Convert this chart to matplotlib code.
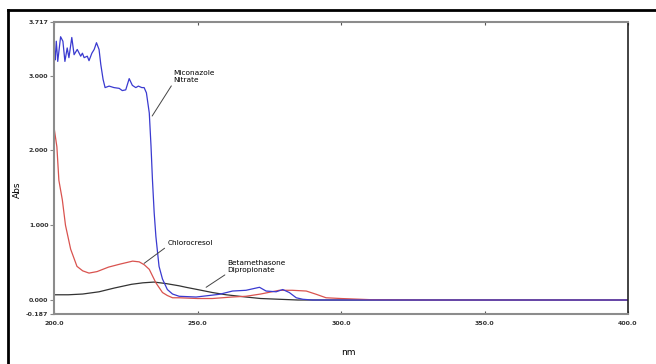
import numpy as np
import matplotlib
matplotlib.use("Agg")
import matplotlib.pyplot as plt

# Miconazole Nitrate (blue)
mic_nm = [200.0, 200.2, 200.4, 200.8, 201.3, 202.3, 203.1, 203.8, 204.6, 205.2, 206.2, 207.0,
          208.1, 209.3, 209.9, 210.5, 211.6, 212.2, 213.2, 214.0, 214.8, 215.7, 216.3, 217.1,
          217.8, 219.2, 220.9, 222.7, 223.8, 225.0, 226.2, 227.3, 228.5, 229.4, 230.6, 231.4,
          232.2, 233.2, 233.8, 234.3, 234.9, 235.5, 236.1, 236.6, 237.8, 239.5, 241.3, 243.6,
          249.5, 257.6, 262.2, 266.9, 271.6, 273.9, 277.4, 279.7, 282.0, 284.4, 286.7, 290.0,
          400.0]
mic_abs = [3.24, 3.32, 3.21, 3.46, 3.19, 3.52, 3.46, 3.19, 3.37, 3.24, 3.51, 3.28,
           3.35, 3.26, 3.30, 3.24, 3.26, 3.20, 3.30, 3.35, 3.44, 3.35, 3.15, 2.95,
           2.84, 2.86, 2.84, 2.83, 2.80, 2.81, 2.96, 2.87, 2.84, 2.86, 2.84, 2.84,
           2.77, 2.50, 2.06, 1.61, 1.17, 0.85, 0.63, 0.45, 0.28, 0.14, 0.08, 0.05,
           0.04, 0.076, 0.12, 0.13, 0.17, 0.12, 0.11, 0.14, 0.10, 0.03, 0.01, 0.0,
           0.0]

# Chlorocresol (red)
chl_nm = [200.0, 201.0, 201.7, 202.9, 204.0, 205.8, 208.0, 210.0, 212.2, 215.0, 219.0, 223.0,
          227.4, 229.7, 231.5, 233.2, 235.5, 237.8, 239.5, 241.3, 243.6, 250.0, 255.2, 262.0,
          266.9, 272.0, 278.5, 283.0, 287.9, 291.4, 294.8, 300.0, 310.0, 330.0, 400.0]
chl_abs = [2.31, 2.05, 1.60, 1.34, 1.00, 0.68, 0.45, 0.39, 0.36, 0.38, 0.44, 0.48,
           0.52, 0.51, 0.47, 0.41, 0.23, 0.10, 0.06, 0.03, 0.03, 0.02, 0.02, 0.04,
           0.05, 0.08, 0.13, 0.13, 0.12, 0.076, 0.03, 0.02, 0.005, 0.0, 0.0]

# Betamethasone Dipropionate (black)
bet_nm = [200.0, 205.0, 210.0, 215.7, 221.0, 227.0, 231.0, 234.9, 239.0, 243.6, 246.0, 250.0,
          255.2, 260.0, 266.9, 272.0, 278.5, 285.0, 400.0]
bet_abs = [0.07, 0.07, 0.08, 0.11, 0.16, 0.21, 0.23, 0.24, 0.22, 0.19, 0.17, 0.14,
           0.10, 0.07, 0.04, 0.02, 0.01, 0.0, 0.0]

xticks = [200.0, 250.0, 300.0, 350.0, 400.0]
yticks = [-0.187, 0.0, 1.0, 2.0, 3.0, 3.717]

fig = plt.figure(figsize=(6.56, 3.64), dpi=100)
ax = fig.add_axes([54 / 656, 1 - 314 / 364, (628 - 54) / 656, (314 - 22) / 364])

ax.plot(bet_nm, bet_abs, color="#333333", lw=0.9)
ax.plot(chl_nm, chl_abs, color="#d9534f", lw=0.9)
ax.plot(mic_nm, mic_abs, color="#3a3ad0", lw=0.9)

ax.set_xlim(200, 400)
ax.set_ylim(-0.187, 3.717)
ax.set_xticks(xticks)
ax.set_xticklabels(["%.1f" % v for v in xticks])
ax.set_yticks(yticks)
ax.set_yticklabels(["%.3f" % v for v in yticks])
ax.tick_params(axis="y", direction="out", length=3, width=0.8, color="#888888",
               labelsize=4.5, pad=1)
ax.tick_params(axis="x", direction="in", length=2, width=0.8, color="#555555",
               labelsize=4.5, pad=5, top=True)
for lab in ax.get_xticklabels() + ax.get_yticklabels():
    lab.set_fontweight("bold")
    lab.set_color("#333333")

for side in ["left", "bottom", "top"]:
    ax.spines[side].set_color("#8c8c8c")
    ax.spines[side].set_linewidth(1.5)
ax.spines["right"].set_color("#222222")
ax.spines["right"].set_linewidth(1.2)

ax.set_xlabel("nm", fontsize=6.5)
ax.set_ylabel("Abs", fontsize=6.5)
ax.xaxis.set_label_coords(0.512, -0.116)
ax.yaxis.set_label_coords(-0.056, 0.425)

# labels with leader lines
ax.annotate("Miconazole\nNitrate", xy=(234.2, 2.46), xytext=(241.5, 2.90),
            fontsize=5.3, va="bottom", ha="left", linespacing=1.3,
            arrowprops=dict(arrowstyle="-", color="#444444", lw=0.7, shrinkA=0, shrinkB=0,
                            relpos=(0.0, 0.0)))
ax.annotate("Chlorocresol", xy=(231.4, 0.49), xytext=(239.5, 0.72),
            fontsize=5.3, va="bottom", ha="left",
            arrowprops=dict(arrowstyle="-", color="#444444", lw=0.7, shrinkA=0, shrinkB=0,
                            relpos=(0.0, 0.0)))
ax.annotate("Betamethasone\nDipropionate", xy=(253.0, 0.17), xytext=(260.5, 0.36),
            fontsize=5.3, va="bottom", ha="left", linespacing=1.3,
            arrowprops=dict(arrowstyle="-", color="#444444", lw=0.7, shrinkA=0, shrinkB=0,
                            relpos=(0.0, 0.0)))

# outer frame (top and left edges)
fig.add_artist(plt.Line2D([8 / 656, 1.0], [1 - 10 / 364, 1 - 10 / 364],
                          transform=fig.transFigure, color="black", lw=2))
fig.add_artist(plt.Line2D([8 / 656, 8 / 656], [0.0, 1 - 10 / 364],
                          transform=fig.transFigure, color="black", lw=2))

fig.savefig("out.png", dpi=100)
